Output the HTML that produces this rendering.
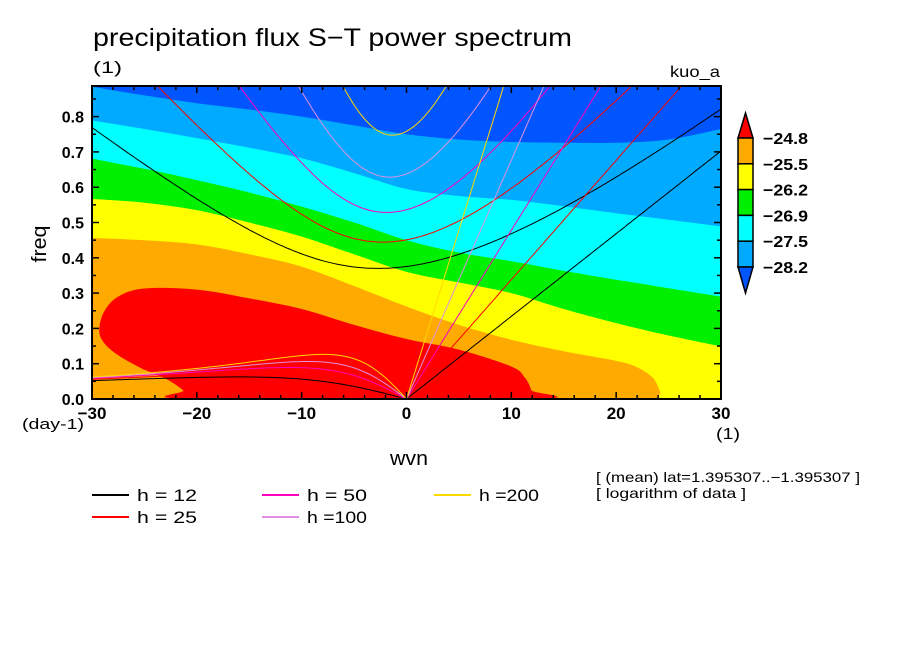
<!DOCTYPE html>
<html><head><meta charset="utf-8"><style>
html,body{margin:0;padding:0;background:#fff}
svg{display:block;font-family:"Liberation Sans",sans-serif}
</style></head><body>
<svg id="chart" width="904" height="654" viewBox="0 0 904 654">
<text x="93" y="46" font-size="25" textLength="479" lengthAdjust="spacingAndGlyphs">precipitation flux S−T power spectrum</text>
<text x="93" y="73" font-size="17" textLength="29" lengthAdjust="spacingAndGlyphs">(1)</text>
<text x="720" y="77" font-size="16" text-anchor="end" textLength="50" lengthAdjust="spacingAndGlyphs">kuo_a</text>
<defs><clipPath id="pc"><rect x="92" y="86" width="629" height="313"/></clipPath></defs>
<g id="fills" clip-path="url(#pc)"></g>
<g id="curves" clip-path="url(#pc)"></g>
<rect x="92" y="86" width="629" height="313" fill="none" stroke="#000" stroke-width="2"/>
<g id="ticks"></g>
<text x="46" y="244" font-size="20" text-anchor="middle" textLength="37" lengthAdjust="spacingAndGlyphs" transform="rotate(-90 46 244)">freq</text>
<text x="409" y="465" font-size="20" text-anchor="middle" textLength="38" lengthAdjust="spacingAndGlyphs">wvn</text>
<text x="22" y="429" font-size="15" textLength="62" lengthAdjust="spacingAndGlyphs">(day-1)</text>
<text x="716" y="439" font-size="16" textLength="24" lengthAdjust="spacingAndGlyphs">(1)</text>
<g id="colorbar"></g>
<g id="legend"></g>
<text x="596" y="482" font-size="14" textLength="264" lengthAdjust="spacingAndGlyphs">[ (mean) lat=1.395307..−1.395307 ]</text>
<text x="596" y="498" font-size="14" textLength="150" lengthAdjust="spacingAndGlyphs">[ logarithm of data ]</text>
</svg>
<script>
// ---- data ----
const boundaryWvn = [-30,-25,-20,-15,-10,-5,0,5,10,15,20,25,30];
const b1 = [0.885,0.86,0.838,0.82,0.80,0.775,0.75,0.735,0.728,0.726,0.726,0.735,0.765];
const b2 = [0.789,0.765,0.739,0.712,0.682,0.64,0.595,0.575,0.564,0.546,0.526,0.508,0.489];
const b3 = [0.681,0.652,0.62,0.585,0.545,0.5,0.45,0.415,0.39,0.363,0.338,0.314,0.29];
const b4 = [0.567,0.556,0.535,0.5,0.46,0.41,0.36,0.33,0.30,0.255,0.215,0.18,0.149];
const orangeWvn = [-30,-25,-20,-15,-10,-5,0,5,10,15,20,22,23.5,24.2,24.4,30];
const orangeTop = [0.456,0.45,0.438,0.41,0.375,0.32,0.262,0.21,0.168,0.135,0.108,0.09,0.06,0.02,0.0,0.0];
const redWvn = [-29.3,-28.8,-27.5,-25,-20,-15,-10,-5,0,5,10,11.3,11.9,12,-20.5,-21.3,-23,-25.5,-27.8,-29];
const redFreq = [0.20,0.25,0.29,0.313,0.31,0.285,0.255,0.21,0.17,0.14,0.092,0.06,0.025,0.0,0.0,0.025,0.058,0.09,0.13,0.165];
const depths = [12,25,50,100,200];
const depthColors = ['#000000','#ff0000','#ff00c0','#e090e0','#ffd800'];
const levelLabels = ['-24.8','-25.5','-26.2','-26.9','-27.5','-28.2'];
const levelColors = ['#ff0000','#ffaa00','#ffff00','#00f000','#00ffff','#00aaff','#0055ff'];
const xTicks = [-30,-20,-10,0,10,20,30];
const yTicks = [0,0.1,0.2,0.3,0.4,0.5,0.6,0.7,0.8];
// ---- axes ----
const X0=92,X1=721,Y0=399,Yp=35.3;
const sx = v => X0 + (v+30)/60*(X1-X0);
const sy = f => Y0 - f*Yp*10;
const NS='http://www.w3.org/2000/svg';
function mk(tag, attrs, parent){const e=document.createElementNS(NS,tag);for(const k in attrs)e.setAttribute(k,attrs[k]);parent.appendChild(e);return e;}
function smooth(P, closed){
  let d='';
  const n=P.length;
  const get=i=>closed?P[(i+n)%n]:P[Math.max(0,Math.min(n-1,i))];
  const last=closed?n:n-1;
  for(let i=0;i<last;i++){
    const p0=get(i-1),p1=get(i),p2=get(i+1),p3=get(i+2);
    if(i===0&&!closed) d+='';
    const c1=[p1[0]+(p2[0]-p0[0])/6,p1[1]+(p2[1]-p0[1])/6];
    const c2=[p2[0]-(p3[0]-p1[0])/6,p2[1]-(p3[1]-p1[1])/6];
    d+=' C'+c1[0].toFixed(1)+','+c1[1].toFixed(1)+' '+c2[0].toFixed(1)+','+c2[1].toFixed(1)+' '+p2[0].toFixed(1)+','+p2[1].toFixed(1);
  }
  return d;
}
const fills=document.getElementById('fills');
function bandBelow(ws, fs, color, name){
  const P=ws.map((w,i)=>[sx(w),sy(fs[i])]);
  let d='M'+sx(ws[0])+','+sy(0)+' L'+P[0][0]+','+P[0][1]+smooth(P,false);
  d+=' L'+sx(ws[ws.length-1])+','+sy(0)+' Z';
  const p=mk('path',{d:d,fill:color},fills);
  
  
}
const bg=mk('rect',{x:X0,y:86,width:X1-X0,height:313,fill:levelColors[6]},fills);


bandBelow(boundaryWvn,b1,levelColors[5],'level-28.2');
bandBelow(boundaryWvn,b2,levelColors[4],'level-27.5');
bandBelow(boundaryWvn,b3,levelColors[3],'level-26.9');
bandBelow(boundaryWvn,b4,levelColors[2],'level-26.2');
bandBelow(orangeWvn,orangeTop,levelColors[1],'level-25.5');
{
  const P=redWvn.map((w,i)=>[sx(w),sy(redFreq[i])]);
  const d='M'+P[0][0]+','+P[0][1]+smooth(P,true)+' Z';
  const p=mk('path',{d:d,fill:levelColors[0]},fills);
  
  
  const r=mk('rect',{x:sx(-20.5),y:sy(0.02),width:sx(11.95)-sx(-20.5),height:sy(0)-sy(0.02)+2,fill:levelColors[0]},fills);
  
  
}
// ---- dispersion curves ----
const R=6.371e6, beta=2*7.292e-5/R, g=9.81, toCpd=86400/(2*Math.PI);
const curves=document.getElementById('curves');
function poly(pts,color,name){
  const p=mk('polyline',{points:pts.map(q=>q[0].toFixed(1)+','+q[1].toFixed(1)).join(' '),fill:'none',stroke:color,'stroke-width':1},curves);
  
  
}
depths.forEach((h,j)=>{
  const c=Math.sqrt(g*h), col=depthColors[j];
  const ig=[], ros=[], kel=[];
  for(let s=-30;s<=30.001;s+=0.2){
    const k=s/R;
    const A=c*c*k*k+3*beta*c, B=beta*c*c*k;
    let w=Math.sqrt(A)+Math.abs(B)/A+1e-5;
    for(let it=0;it<50;it++){w=w-(w*w*w-A*w-B)/(3*w*w-A);}
    ig.push([sx(s),sy(w*toCpd)]);
    if(s<=0.001){ros.push([sx(s),sy((-beta*k/(k*k+3*beta/c))*toCpd)]);}
    if(s>=-0.001){kel.push([sx(s),sy(c*k*toCpd)]);}
  }
  poly(ig,col,'ig-wave-h'+h);
  poly(ros,col,'rossby-wave-h'+h);
  poly(kel,col,'kelvin-wave-h'+h);
});
// ---- ticks ----
const tk=document.getElementById('ticks');
for(let v=-30;v<=30;v+=2){
  const L=(v%10===0)?7:4;
  mk('line',{x1:sx(v),x2:sx(v),y1:Y0,y2:Y0-L,stroke:'#000','stroke-width':1.5},tk);
  mk('line',{x1:sx(v),x2:sx(v),y1:86,y2:86+L,stroke:'#000','stroke-width':1.5},tk);
}
for(let f=0;f<=0.88;f+=0.05){
  const L=(Math.round(f*100)%10===0)?7:4;
  mk('line',{x1:X0,x2:X0+L,y1:sy(f),y2:sy(f),stroke:'#000','stroke-width':1.5},tk);
  mk('line',{x1:X1,x2:X1-L,y1:sy(f),y2:sy(f),stroke:'#000','stroke-width':1.5},tk);
}
xTicks.forEach(v=>{
  const t=mk('text',{x:sx(v),y:419,'font-size':17,'text-anchor':'middle','font-weight':'bold'},tk);
  t.textContent=(v<0?'−':'')+Math.abs(v);
  
  
});
yTicks.forEach(f=>{
  const t=mk('text',{x:84,y:sy(f)+6,'font-size':16,'text-anchor':'end','font-weight':'bold'},tk);
  t.textContent=f.toFixed(1);
  
  
});
// ---- colorbar ----
const cb=document.getElementById('colorbar');
const cbx=738,cbw=15,cbTop=138,seg=25.8;
{
  const p=mk('polygon',{points:`${cbx},${cbTop} ${cbx+cbw/2},113 ${cbx+cbw},${cbTop}`,fill:levelColors[0],stroke:'#000','stroke-width':1.5},cb);
  
  
}
for(let i=1;i<=5;i++){
  const r=mk('rect',{x:cbx,y:cbTop+(i-1)*seg,width:cbw,height:seg,fill:levelColors[i],stroke:'#000','stroke-width':1.5},cb);
  
  
}
{
  const yb=cbTop+5*seg;
  const p=mk('polygon',{points:`${cbx},${yb} ${cbx+cbw/2},293 ${cbx+cbw},${yb}`,fill:levelColors[6],stroke:'#000','stroke-width':1.5},cb);
  
  
}
levelLabels.forEach((s,i)=>{
  const t=mk('text',{x:763,y:cbTop+i*seg+6,'font-size':16,'font-weight':'bold',textLength:45,lengthAdjust:'spacingAndGlyphs'},cb);
  t.textContent=s.replace('-','−');
  
  
});
// ---- legend ----
const lg=document.getElementById('legend');
const legPos=[[92,495],[92,517],[262,495],[262,517],[434,495]];
const legText=['h = 12','h = 25','h = 50','h =100','h =200'];
depths.forEach((h,j)=>{
  const [lx,ly]=legPos[j];
  const l=mk('line',{x1:lx,x2:lx+37,y1:ly,y2:ly,stroke:depthColors[j],'stroke-width':2},lg);
  
  
  const t=mk('text',{x:lx+45,y:ly+6,'font-size':17,textLength:60,lengthAdjust:'spacingAndGlyphs'},lg);
  t.textContent=legText[j];
  
  
});
</script>
</body></html>
